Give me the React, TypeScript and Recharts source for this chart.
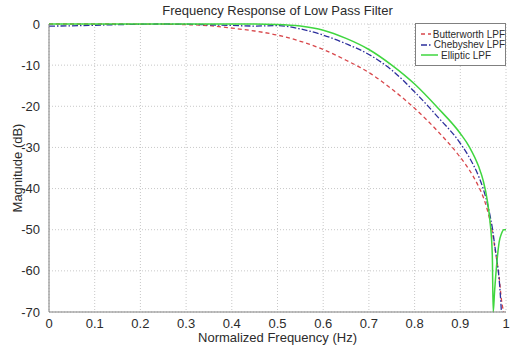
import React from 'react';
import {
  LineChart,
  Line,
  XAxis,
  YAxis,
  CartesianGrid
} from 'recharts';

// Normalized frequency samples (shared x values)
const freq = [0, 0.05, 0.1, 0.15, 0.2, 0.25, 0.3, 0.35, 0.4, 0.45, 0.5, 0.55, 0.6, 0.65, 0.7, 0.75, 0.8, 0.85, 0.9, 0.92, 0.94, 0.95, 0.96, 0.965, 0.97, 0.972, 0.975, 0.98, 0.985, 0.99, 0.995, 1];

// Magnitudes in dB
const butterworth = [0, 0, 0, 0, -0.02, -0.05, -0.15, -0.4, -1, -1.7, -2.7, -4.2, -6.2, -8.8, -11.8, -15.8, -20.5, -26, -32.4, -35.5, -39.5, -42, -45.5, -47.8, -50.5, -51.8, -54, -57.5, -61.5, -67, -70, null];
const chebyshev = [-0.5, -0.45, -0.3, -0.15, -0.05, 0, -0.05, -0.2, -0.35, -0.5, -0.4, -1.2, -2.7, -4.8, -7.4, -11.2, -16.5, -22.5, -29, -32.5, -37, -40, -44, -46.5, -49.5, -51, -53.5, -57.5, -62, -70, null, null];
const elliptic = [0, 0, 0, 0, 0, 0, 0, 0, 0, 0, -0.1, -0.5, -1.5, -3.5, -6.2, -10, -14.6, -20.3, -26.6, -29.9, -34.6, -38, -43.5, -48, -56, -70, -65, -58, -53, -51, -50, -50];

const xTicks = [0, 0.1, 0.2, 0.3, 0.4, 0.5, 0.6, 0.7, 0.8, 0.9, 1];
const yTicks = [-70, -60, -50, -40, -30, -20, -10, 0];

const seriesNames = ['Butterworth LPF', 'Chebyshev LPF', 'Elliptic LPF'];

const FONT = '"Liberation Sans", Arial, sans-serif';
const AXIS = '#808080';
const TEXT = '#2b2b2b';

const SERIES = [
  { key: 'butter', color: '#d8474b', dash: '4 3', width: 1.3 },
  { key: 'cheby', color: '#2c2f9c', dash: '6 2 1.5 2', width: 1.3 },
  { key: 'ellip', color: '#3fd63f', dash: undefined as string | undefined, width: 1.5 },
];

const data = freq.map((f, i) => ({
  f,
  butter: butterworth[i],
  cheby: chebyshev[i],
  ellip: elliptic[i],
}));

// legend drawn as an overlay so it doesn't eat chart space
const LegendBox = () => (
  <div
    style={{
      position: 'absolute',
      left: 415,
      top: 23,
      width: 91,
      height: 43,
      background: '#fff',
      border: `1px solid ${AXIS}`,
      boxSizing: 'border-box',
      padding: '5px 0 0 4px',
      fontSize: 10,
      color: TEXT,
      whiteSpace: 'nowrap',
    }}
  >
    {SERIES.map((s, i) => (
      <div key={s.key} style={{ display: 'flex', alignItems: 'center', height: 10.5 }}>
        <svg width={19} height={8} style={{ marginRight: 2 }}>
          <line x1={1} y1={4} x2={18} y2={4} stroke={s.color} strokeWidth={s.width} strokeDasharray={s.dash} />
        </svg>
        <span>{seriesNames[i]}</span>
      </div>
    ))}
  </div>
);

export default function App() {
  return (
    <div style={{ position: 'relative', width: 510, height: 346, background: '#fff', fontFamily: FONT }}>
      <style>{'body{margin:0}'}</style>
      <div
        style={{
          position: 'absolute',
          left: 49,
          width: 457,
          top: 3,
          textAlign: 'center',
          fontSize: 13,
          color: TEXT,
        }}
      >
        Frequency Response of Low Pass Filter
      </div>
      <LineChart
        width={510}
        height={346}
        data={data}
        margin={{ top: 24, right: 4, bottom: 0, left: 0 }}
        style={{ fontFamily: FONT }}
      >
        <CartesianGrid stroke="#c8c8c8" strokeDasharray="1 2" horizontal vertical />
        <XAxis
          dataKey="f"
          type="number"
          domain={[0, 1]}
          ticks={xTicks}
          height={34}
          stroke={AXIS}
          tickLine={false}
          tickMargin={1}
          tick={{ fill: TEXT, fontSize: 13 }}
        />
        <XAxis xAxisId="top" dataKey="f" type="number" domain={[0, 1]} orientation="top" height={0} tick={false} tickLine={false} stroke={AXIS} />
        <YAxis
          type="number"
          domain={[-70, 0]}
          ticks={yTicks}
          width={49}
          stroke={AXIS}
          tickLine={false}
          tickMargin={3}
          tick={{ fill: TEXT, fontSize: 13 }}
        />
        <YAxis yAxisId="right" orientation="right" domain={[-70, 0]} width={0} tick={false} tickLine={false} stroke={AXIS} />
        {SERIES.map((s, i) => (
          <Line
            key={s.key}
            dataKey={s.key}
            name={seriesNames[i]}
            type="monotone"
            stroke={s.color}
            strokeWidth={s.width}
            strokeDasharray={s.dash}
            dot={false}
            activeDot={false}
            isAnimationActive={false}
          />
        ))}
      </LineChart>
      <div
        style={{
          position: 'absolute',
          left: 49,
          width: 457,
          top: 330,
          textAlign: 'center',
          fontSize: 13,
          color: TEXT,
          lineHeight: '15px',
        }}
      >
        Normalized Frequency (Hz)
      </div>
      <div
        style={{
          position: 'absolute',
          left: 17,
          top: 168,
          transform: 'translate(-50%, -50%) rotate(-90deg)',
          fontSize: 13,
          color: TEXT,
          whiteSpace: 'nowrap',
          lineHeight: '15px',
        }}
      >
        Magnitude (dB)
      </div>
      <LegendBox />
    </div>
  );
}
